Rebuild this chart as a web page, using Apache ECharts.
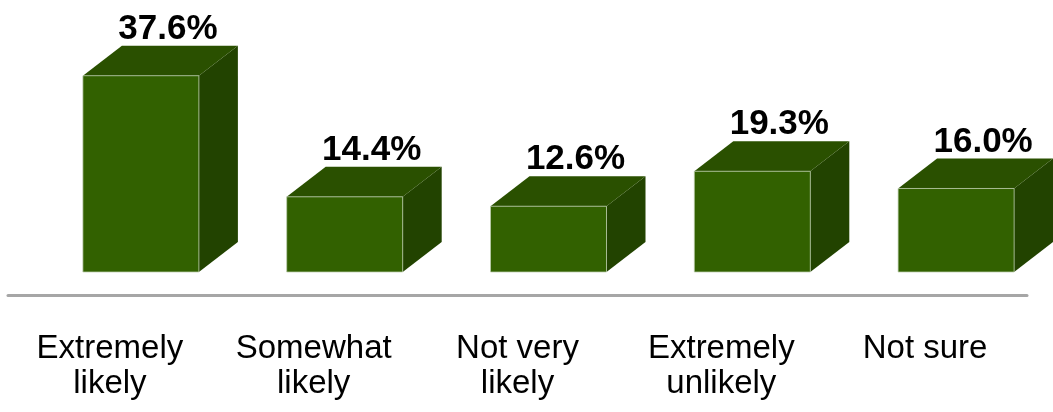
<!DOCTYPE html>
<html>
<head>
<meta charset="utf-8">
<script src="https://cdn.jsdelivr.net/npm/echarts@6/dist/echarts.min.js"></script>
<style>
html,body{margin:0;padding:0;background:#fff;}
#chart{width:1053px;height:412px;}
</style>
</head>
<body>
<div id="chart"></div>
<script>
var categories = ['Extremely\nlikely', 'Somewhat\nlikely', 'Not very\nlikely', 'Extremely\nunlikely', 'Not sure'];
var values = [37.6, 14.4, 12.6, 19.3, 16.0];
var valueLabels = ['37.6%', '14.4%', '12.6%', '19.3%', '16.0%'];

var FRONT = '#326100', TOP = '#2a5000', SIDE = '#224300';
var DX = 39, DY = 30, LEFT_OFF = -27, W = 116, LABEL_OFF = 58;

var chart = echarts.init(document.getElementById('chart'), null, {renderer: 'canvas'});
chart.setOption({
  animation: false,
  backgroundColor: '#ffffff',
  grid: {left: 8, right: 26, top: 11, bottom: 140, containLabel: false},
  xAxis: {
    type: 'category',
    data: categories,
    offset: 23,
    axisLine: {show: true, onZero: false, lineStyle: {color: '#a6a6a6', width: 3}},
    axisTick: {show: false},
    axisLabel: {
      interval: 0,
      margin: 36,
      color: '#000',
      fontSize: 33,
      lineHeight: 35,
      fontFamily: 'Liberation Sans, Arial, sans-serif'
    }
  },
  yAxis: {
    type: 'value',
    min: 0, max: 50,
    show: false,
    splitLine: {show: false}
  },
  series: [{
    type: 'custom',
    data: values.map(function (v, i) { return [i, v]; }),
    clip: false,
    renderItem: function (params, api) {
      var i = api.value(0), v = api.value(1);
      var top = api.coord([i, v]);
      var base = api.coord([i, 0]);
      var x0 = top[0] + LEFT_OFF, x1 = x0 + W;
      var yT = top[1], yB = base[1];
      return {
        type: 'group',
        children: [
          {type: 'polygon', shape: {points: [[x1, yT], [x1 + DX, yT - DY], [x1 + DX, yB - DY], [x1, yB]]},
            style: {fill: SIDE}},
          {type: 'polygon', shape: {points: [[x0, yT], [x0 + DX, yT - DY], [x1 + DX, yT - DY], [x1, yT]]},
            style: {fill: TOP}},
          {type: 'rect', shape: {x: x0, y: yT, width: W, height: yB - yT},
            style: {fill: FRONT, stroke: 'rgba(190,205,175,0.75)', lineWidth: 1}},
          {type: 'text', x: top[0] + LABEL_OFF, y: yT - DY + 1,
            style: {text: valueLabels[params.dataIndex], fill: '#000', font: 'bold 35px "Liberation Sans", Arial, sans-serif',
              textAlign: 'center', textVerticalAlign: 'bottom'}}
        ]
      };
    }
  }]
});
</script>
</body>
</html>
